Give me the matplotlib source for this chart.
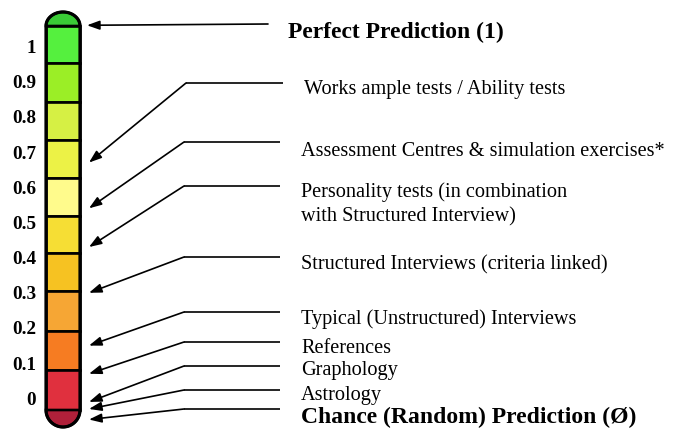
import numpy as np
import matplotlib
matplotlib.use("Agg")
import matplotlib.pyplot as plt
from matplotlib.patches import Rectangle, Polygon

# ---------------- data ----------------
scale_values = [1.0, 0.9, 0.8, 0.7, 0.6, 0.5, 0.4, 0.3, 0.2, 0.1, 0.0]
scale_labels = ["1", "0.9", "0.8", "0.7", "0.6", "0.5", "0.4", "0.3", "0.2", "0.1", "0"]

# colours of the thermometer bands, top cap to bottom cap
band_colors = ["#3acb36", "#55f03e", "#9bee26", "#d6f044", "#ecf246", "#fffb8c",
               "#f6de34", "#f6c222", "#f6a634", "#f67c22", "#e0303e", "#b0203a"]

methods = ["Perfect Prediction (1)",
           "Works ample tests / Ability tests",
           "Assessment Centres & simulation exercises*",
           ["Personality tests (in combination", "with Structured Interview)"],
           "Structured Interviews (criteria linked)",
           "Typical (Unstructured) Interviews",
           "References",
           "Graphology",
           "Astrology",
           "Chance (Random) Prediction (Ø)"]
method_bold = [True, False, False, False, False, False, False, False, False, True]
# validity level each arrow points at
method_validity = [1.06, 0.67, 0.54, 0.43, 0.30, 0.15, 0.07, -0.01, -0.03, -0.06]

# ---------------- layout (pixels) ----------------
W, H = 676, 441
PX_ZERO, PX_PER_UNIT = 398.4, 352.0


def py(px):
    """convert a pixel row of the layout into validity units"""
    return (PX_ZERO - px) / PX_PER_UNIT


bar_left, bar_right = 46, 80
band_edges_px = [26, 63, 102, 140, 178, 216, 253, 291, 331, 370, 410]
cap_top_px, cap_bottom_px = 12, 427

leader_y_px = [24, 83, 142, 186, 257, 312, 342, 366, 390, 409]
elbow_x = [None, 186, 184, 184, 184, 184, 184, 184, 184, 184]
line_end_x = [268, 283, 280, 280, 280, 280, 280, 280, 280, 280]
tip_x = [87, 89, 89, 89, 89, 89, 89, 89, 89, 89]
text_x = [288, 304, 301, 301, 301, 301, 301, 301, 301, 301]
text_base_px = [38, 94, 156, 197, 269, 324, 353, 375, 400, 423]
line_gap_px = 24

SERIF = "Liberation Serif"

fig = plt.figure(figsize=(W / 100, H / 100), dpi=100)
ax = fig.add_axes([0, 0, 1, 1])
ax.set_xlim(0, W)
ax.set_ylim(py(H), py(0))
for s in ax.spines.values():
    s.set_visible(False)
ax.set_xticks([])
ax.set_yticks(scale_values, scale_labels)
ax.tick_params(axis="y", length=0, pad=-36 * 0.72)
for lbl in ax.get_yticklabels():
    lbl.set_fontfamily(SERIF)
    lbl.set_fontweight("bold")
    lbl.set_fontsize(13.8)

# ---------------- thermometer bar ----------------
cx = (bar_left + bar_right) / 2
a = (bar_right - bar_left) / 2
th = np.linspace(0, np.pi, 60)

# top cap
b_top = (band_edges_px[0] - cap_top_px) / PX_PER_UNIT
top_pts = np.column_stack([cx + a * np.cos(th), py(band_edges_px[0]) + b_top * np.sin(th)])
ax.add_patch(Polygon(top_pts, closed=True, facecolor=band_colors[0],
                     edgecolor="black", lw=1.9, zorder=2))
# bands
for i in range(len(band_edges_px) - 1):
    y0 = py(band_edges_px[i + 1])
    y1 = py(band_edges_px[i])
    ax.add_patch(Rectangle((bar_left, y0), bar_right - bar_left, y1 - y0,
                           facecolor=band_colors[i + 1], edgecolor="black",
                           lw=1.9, zorder=2))
# bottom cap
b_bot = (cap_bottom_px - band_edges_px[-1]) / PX_PER_UNIT
bot_pts = np.column_stack([cx - a * np.cos(th), py(band_edges_px[-1]) - b_bot * np.sin(th)])
ax.add_patch(Polygon(bot_pts, closed=True, facecolor=band_colors[-1],
                     edgecolor="black", lw=1.9, zorder=2))
# outline
outline = np.vstack([top_pts, bot_pts])
ax.add_patch(Polygon(outline, closed=True, fill=False, edgecolor="black",
                     lw=2.3, zorder=3))

# ---------------- leaders, arrows, texts ----------------
for i, name in enumerate(methods):
    ly = py(leader_y_px[i])
    tip = (tip_x[i], method_validity[i])
    if elbow_x[i] is None:
        start = (line_end_x[i], ly)
    else:
        ax.plot([elbow_x[i], line_end_x[i]], [ly, ly], color="black", lw=1.2,
                solid_capstyle="butt")
        start = (elbow_x[i], ly)
    ax.annotate("", xy=tip, xytext=start,
                arrowprops=dict(arrowstyle="-|>,head_length=0.75,head_width=0.27",
                                color="black", lw=1.2, shrinkA=0, shrinkB=0))
    lines = name if isinstance(name, list) else [name]
    for k, t in enumerate(lines):
        ax.text(text_x[i], py(text_base_px[i] + k * line_gap_px), t,
                family=SERIF, fontsize=17 if method_bold[i] else 14.6,
                fontweight="bold" if method_bold[i] else "normal",
                ha="left", va="baseline", color="black")

fig.savefig("out.png", dpi=100)
